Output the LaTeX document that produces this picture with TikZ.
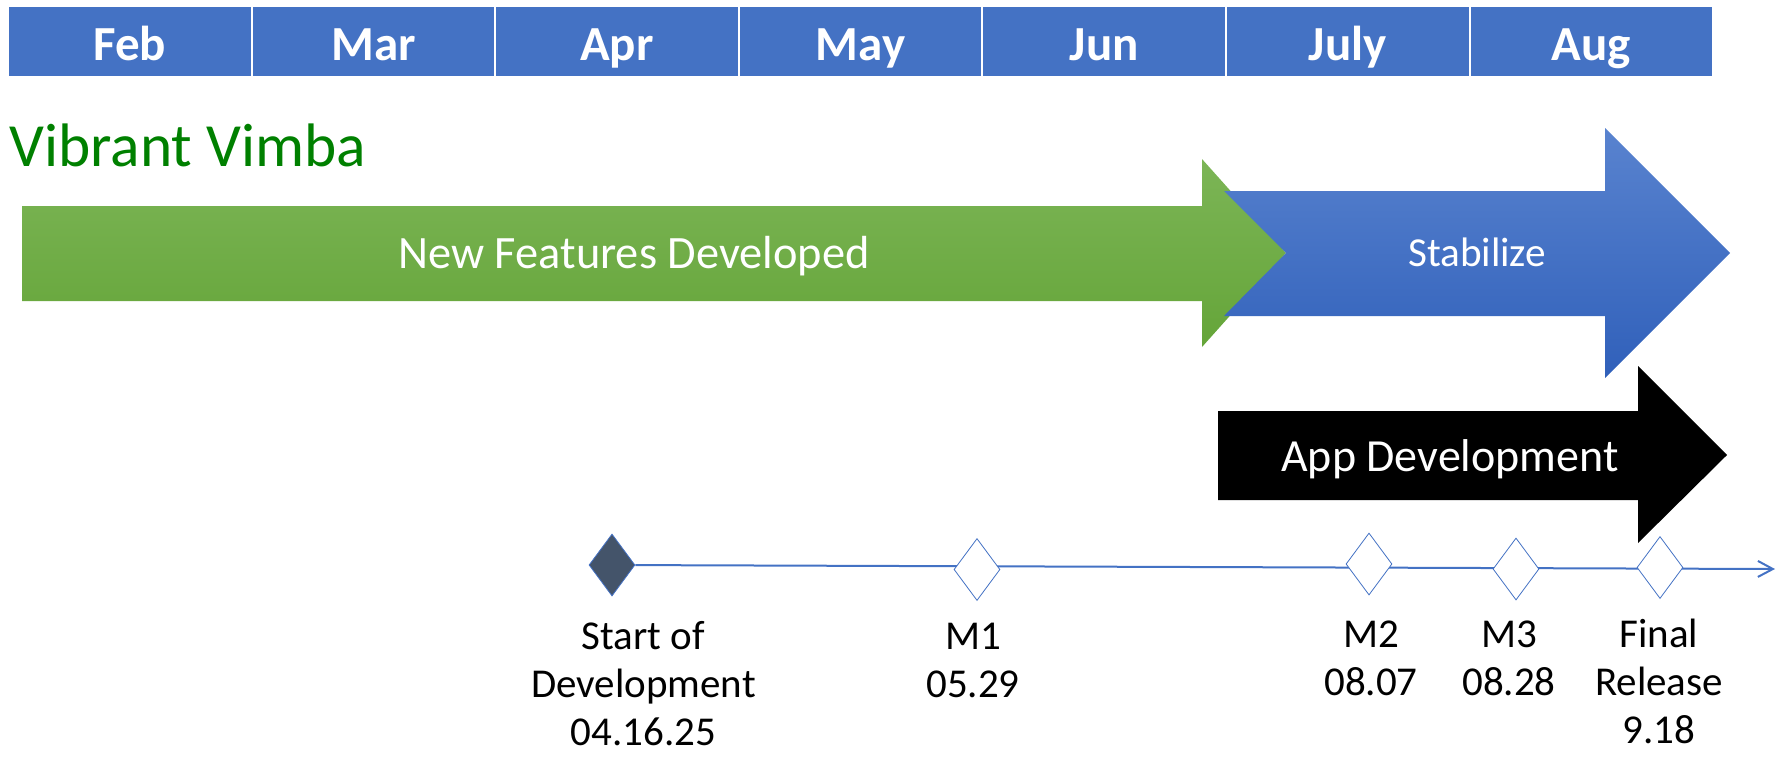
\documentclass[tikz,border=0pt]{standalone}
\usepackage{fontspec}
\setmainfont{Carlito}
\usetikzlibrary{shapes.geometric,arrows.meta}
\definecolor{monthblue}{RGB}{68,114,196}
\definecolor{slate}{RGB}{68,84,106}
\definecolor{titlegreen}{RGB}{0,128,0}
\definecolor{greentop}{RGB}{124,181,86}
\definecolor{greenbot}{RGB}{101,165,57}
\definecolor{bluetop}{RGB}{89,131,207}
\definecolor{bluebot}{RGB}{48,96,186}

\begin{document}
\begin{tikzpicture}[
		x=0.5pt, y=-0.5pt,
		month/.style={rectangle, draw=white, line width=1pt, fill=monthblue, minimum width=121.8pt, minimum height=35.5pt, inner sep=0pt, text=white, font=\fontsize{24.5}{29}\selectfont\bfseries, text height=22pt, text depth=3.5pt},
		milestone/.style={diamond, draw=monthblue, line width=0.4pt, fill=white, inner sep=0pt, minimum width=23pt, minimum height=31pt},
		bartext/.style={text=white, anchor=base, inner sep=0pt},
		mlabel/.style={anchor=base, align=center, inner sep=0pt, font=\fontsize{20.5}{24}\selectfont}
	]
  \useasboundingbox (0,0) rectangle (1785,757);
  \node (feb) [month] at (129.8,41.5) {Feb};
  \node (mar) [month] at (373.4,41.5) {Mar};
  \node (apr) [month] at (617,41.5) {Apr};
  \node (may) [month] at (860.6,41.5) {May};
  \node (jun) [month] at (1104.2,41.5) {Jun};
  \node (jul) [month] at (1347.8,41.5) {July};
  \node (aug) [month] at (1591.4,41.5) {Aug};
  \node (title) [anchor=base west, inner sep=0pt, text=titlegreen, font=\fontsize{30.7}{36}\selectfont] at (9,166) {Vibrant Vimba};
  \shade [top color=greentop, bottom color=greenbot] (22,206) -- (1202,206) -- (1202,159) -- (1286,253) -- (1202,347) -- (1202,301) -- (22,301) -- cycle;
  \shade [top color=bluetop, bottom color=bluebot] (1224,191) -- (1605,191) -- (1605,128) -- (1730,253) -- (1605,378) -- (1605,316) -- (1224,316) -- (1286,253) -- cycle;
  \fill (1218,411) -- (1638,411) -- (1638,366) -- (1727,455) -- (1638,543) -- (1638,500) -- (1218,500) -- cycle;
  \node (features) [bartext, font=\fontsize{23.2}{28}\selectfont] at (634,268.5) {New Features Developed};
  \node (stabilize) [bartext, font=\fontsize{20.6}{25}\selectfont] at (1477,266) {Stabilize};
  \node (appdev) [bartext, font=\fontsize{23}{28}\selectfont] at (1450,471) {App Development};
  \node (start) [milestone, fill=slate] at (612,565) {};
  \coordinate (tl-end) at (1775,569);
  \draw [monthblue, line width=1pt, -{Straight Barb[length=7.5pt, width=8pt]}] (start) -- (tl-end);
  \node (m1) [milestone] at (977,569.5) {};
  \node (m2) [milestone] at (1369,564) {};
  \node (m3) [milestone] at (1516,569) {};
  \node (final) [milestone] at (1660,567.5) {};
  \node (start-label) [mlabel] at (643.5,745) {Start of\\Development\\04.16.25};
  \node (m1-label) [mlabel] at (973,697) {M1\\05.29};
  \node (m2-label) [mlabel] at (1371,695) {M2\\08.07};
  \node (m3-label) [mlabel] at (1509,695) {M3\\08.28};
  \node (final-label) [mlabel] at (1659,743) {Final\\Release\\9.18};
\end{tikzpicture}
\end{document}
